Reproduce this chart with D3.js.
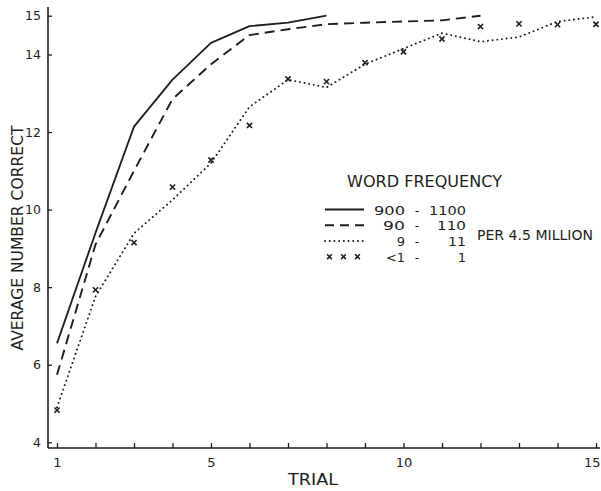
<!DOCTYPE html>
<html>
<head>
<meta charset="utf-8">
<script src="https://cdn.jsdelivr.net/npm/d3@7"></script>
<style>
  html, body { margin: 0; padding: 0; background: #fff; }
  svg { display: block; }
  text { font-family: "DejaVu Sans", sans-serif; fill: #1e1e1e; }
</style>
</head>
<body>
<svg id="chart" width="601" height="491"></svg>
<script>
// Learning curves: average number of words correct per trial, by word frequency
const trials = d3.range(1, 16);
const freqHigh = [6.55, 9.4, 12.14, 13.35, 14.3, 14.73, 14.82, 15.0];                         // 900 - 1100
const freqMid  = [5.74, 9.1, 11.0, 12.85, 13.75, 14.5, 14.65, 14.78, 14.82, 14.85, 14.88, 15.0]; // 90 - 110
const freqLow  = [4.9, 7.76, 9.39, 10.25, 11.2, 12.65, 13.35, 13.15, 13.75, 14.15, 14.55, 14.33, 14.45, 14.85, 14.97]; // 9 - 11
const freqRare = [4.83, 7.93, 9.15, 10.58, 11.28, 12.17, 13.37, 13.3, 13.79, 14.07, 14.4, 14.72, 14.79, 14.77, 14.78]; // <1 - 1
const yTicks = [4, 6, 8, 10, 12, 14, 15];
const xLabelled = [1, 5, 10, 15];
const legendRows = [
  { style: "solid",  lo: "900", hi: "1100", loW: 31, hiW: 37 },
  { style: "dashed", lo: "90",  hi: "110",  loW: 22, hiW: 29 },
  { style: "dotted", lo: "9",   hi: "11",   loW: 0,  hiW: 18 },
  { style: "cross",  lo: "<1",  hi: "1",    loW: 19, hiW: 0 }
];

const ink = "#1e1e1e";
const svg = d3.select("#chart");

const x = d3.scaleLinear().domain([1, 15]).range([57, 596]);
const y = d3.scaleLinear().domain([4, 15]).range([442.3, 15.7]);

const axisX = 48, axisY = 448;

// axis lines
svg.append("line").attr("x1", axisX).attr("x2", axisX).attr("y1", 7).attr("y2", axisY)
  .attr("stroke", ink).attr("stroke-width", 1.6);
svg.append("line").attr("x1", axisX).attr("x2", 600).attr("y1", axisY).attr("y2", axisY)
  .attr("stroke", ink).attr("stroke-width", 1.6);

// y axis ticks and labels
const gy = svg.append("g").attr("transform", `translate(${axisX},0)`)
  .call(d3.axisLeft(y).tickValues(yTicks).tickSize(-4).tickPadding(7).tickFormat(d3.format("d")));
gy.select(".domain").remove();
gy.selectAll(".tick line").attr("stroke", ink).attr("stroke-width", 1.3);
gy.selectAll(".tick text").attr("font-size", 12.5).attr("fill", ink)
  .attr("font-family", "DejaVu Sans, sans-serif");

// x axis ticks and labels
const gx = svg.append("g").attr("transform", `translate(0,${axisY})`)
  .call(d3.axisBottom(x).tickValues(trials).tickSize(-5).tickPadding(10)
    .tickFormat(d => xLabelled.includes(d) ? d : ""));
gx.select(".domain").remove();
gx.selectAll(".tick line").attr("stroke", ink).attr("stroke-width", 1.3);
gx.selectAll(".tick text").attr("font-size", 13).attr("fill", ink)
  .attr("font-family", "DejaVu Sans, sans-serif")
  .filter(d => d === 15).attr("text-anchor", "end").attr("dx", 4);

// axis titles
svg.append("text").attr("x", 313).attr("y", 485).attr("text-anchor", "middle")
  .attr("font-size", 15).attr("textLength", 50).attr("lengthAdjust", "spacingAndGlyphs")
  .text("TRIAL");
svg.append("text").attr("transform", "translate(23,238) rotate(-90)")
  .attr("text-anchor", "middle").attr("font-size", 16.5)
  .attr("textLength", 225).attr("lengthAdjust", "spacingAndGlyphs")
  .text("AVERAGE NUMBER CORRECT");

// curves
const line = d3.line().x((d, i) => x(i + 1)).y(d => y(d));
const styles = {
  solid:  { dash: null,        width: 1.8, cap: "butt" },
  dashed: { dash: "10,6",      width: 1.9, cap: "butt" },
  dotted: { dash: "0.1,4.6",   width: 1.9, cap: "round" }
};
function drawCurve(values, style) {
  const s = styles[style];
  svg.append("path").datum(values).attr("d", line)
    .attr("fill", "none").attr("stroke", ink)
    .attr("stroke-width", s.width).attr("stroke-linecap", s.cap)
    .attr("stroke-linejoin", "round")
    .attr("stroke-dasharray", s.dash);
}
drawCurve(freqHigh, "solid");
drawCurve(freqMid, "dashed");
drawCurve(freqLow, "dotted");

// cross markers
const cross = (cx, cy, r) => `M${cx - r},${cy - r}L${cx + r},${cy + r}M${cx - r},${cy + r}L${cx + r},${cy - r}`;
svg.append("g").selectAll("path").data(freqRare).join("path")
  .attr("d", (d, i) => cross(x(i + 1), y(d), 2.6))
  .attr("stroke", ink).attr("stroke-width", 1.6).attr("fill", "none");

// legend
const lg = svg.append("g");
lg.append("text").attr("x", 347).attr("y", 187).attr("font-size", 15)
  .attr("textLength", 155).attr("lengthAdjust", "spacingAndGlyphs")
  .text("WORD FREQUENCY");

const rowY = [209.5, 225.2, 241, 256.7];
function legendText(xEnd, yBase, str, width) {
  const t = lg.append("text").attr("x", xEnd).attr("y", yBase).attr("text-anchor", "end")
    .attr("font-size", 13).text(str);
  if (width) t.attr("textLength", width).attr("lengthAdjust", "spacingAndGlyphs");
}
legendRows.forEach((r, i) => {
  const cy = rowY[i];
  if (r.style === "cross") {
    [329.5, 343.5, 357.5].forEach(cx => {
      lg.append("path").attr("d", cross(cx, cy, 2.4))
        .attr("stroke", ink).attr("stroke-width", 1.5).attr("fill", "none");
    });
  } else {
    const s = styles[r.style];
    lg.append("line").attr("x1", 325).attr("x2", 364).attr("y1", cy).attr("y2", cy)
      .attr("stroke", ink).attr("stroke-width", s.width).attr("stroke-linecap", s.cap)
      .attr("stroke-dasharray", r.style === "dashed" ? "9,6" : s.dash);
  }
  legendText(405, cy + 5, r.lo, r.loW);
  lg.append("text").attr("x", 417).attr("y", cy + 5).attr("text-anchor", "middle")
    .attr("font-size", 13).text("-");
  legendText(466, cy + 5, r.hi, r.hiW);
});
lg.append("text").attr("x", 477).attr("y", 239.5).attr("font-size", 14)
  .attr("textLength", 116).attr("lengthAdjust", "spacingAndGlyphs")
  .text("PER 4.5 MILLION");
</script>
</body>
</html>
